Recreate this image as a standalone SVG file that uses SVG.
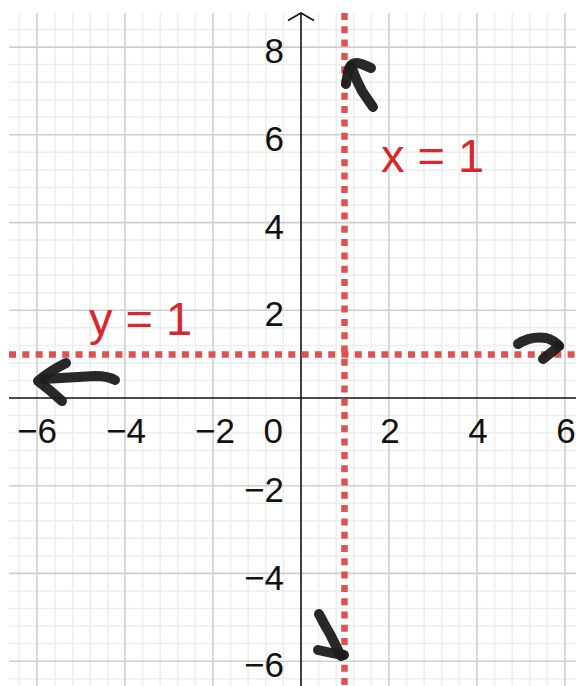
<svg xmlns="http://www.w3.org/2000/svg" width="576" height="686" viewBox="0 0 576 686">
<style>
.minor{stroke:#ededed;stroke-width:1.5}
.major{stroke:#cfcfcf;stroke-width:1.6}
.axis{stroke:#111;stroke-width:1.6;fill:none}
.tick{font-family:"Liberation Sans",Arial,sans-serif;font-size:35px;fill:#111}
.lbl{font-family:"Liberation Sans",Arial,sans-serif;font-size:47px;fill:#d8282d}
.dot{stroke:#e05252;stroke-width:6.5;stroke-dasharray:7 6.3;fill:none}
.hand{stroke:#1c1c1c;stroke-width:10;stroke-linecap:round;stroke-linejoin:round;fill:none;opacity:0.95}
</style>
<rect width="576" height="686" fill="#fff"/>
<g id="grid">
<g class="minor">
<path d="M19.4 13V686M55 13V686M72.6 13V686M90.2 13V686M107.8 13V686M142.6 13V686M160.2 13V686M177.8 13V686M195.4 13V686M230.6 13V686M248.2 13V686M265.8 13V686M283.4 13V686M318.6 13V686M336.2 13V686M353.8 13V686M371.4 13V686M406.6 13V686M424.2 13V686M441.8 13V686M459.4 13V686M494.6 13V686M512.2 13V686M529.8 13V686M547.4 13V686"/>
<path d="M9 29.6H576M9 64.6H576M9 82.2H576M9 99.7H576M9 117.3H576M9 152.3H576M9 169.9H576M9 187.5H576M9 205H576M9 240.1H576M9 257.7H576M9 275.2H576M9 292.8H576M9 327.8H576M9 345.4H576M9 362.9H576M9 380.5H576M9 415.5H576M9 433.1H576M9 450.6H576M9 468.2H576M9 503.2H576M9 520.8H576M9 538.3H576M9 555.9H576M9 591H576M9 608.5H576M9 626.1H576M9 643.6H576M9 678.7H576"/>
</g>
<g class="major">
<path d="M37 13V686M125 13V686M213 13V686M389 13V686M477 13V686M565 13V686"/>
<path d="M9 47.1H576M9 134.8H576M9 222.6H576M9 310.3H576M9 485.7H576M9 573.4H576M9 661.2H576"/>
</g>
</g>
<g id="axes">
<path class="axis" d="M9 398H576"/>
<path class="axis" d="M301 13V686"/>
<path class="axis" d="M288 20.5L301 13L314 20.5"/>
</g>
<g id="tick-labels">
<text class="tick" x="37" y="443" text-anchor="middle">−6</text>
<text class="tick" x="126" y="443" text-anchor="middle">−4</text>
<text class="tick" x="215" y="443" text-anchor="middle">−2</text>
<text class="tick" x="283" y="443" text-anchor="end">0</text>
<text class="tick" x="390" y="443" text-anchor="middle">2</text>
<text class="tick" x="478" y="443" text-anchor="middle">4</text>
<text class="tick" x="566" y="443" text-anchor="middle">6</text>
<text class="tick" x="284" y="63" text-anchor="end">8</text>
<text class="tick" x="284" y="151" text-anchor="end">6</text>
<text class="tick" x="284" y="239" text-anchor="end">4</text>
<text class="tick" x="284" y="326" text-anchor="end">2</text>
<text class="tick" x="284" y="502" text-anchor="end">−2</text>
<text class="tick" x="284" y="590" text-anchor="end">−4</text>
<text class="tick" x="284" y="677" text-anchor="end">−6</text>
</g>
<g id="line-x1">
<path class="dot" d="M344.5 13V686"/>
<text class="lbl" x="381" y="172">x = 1</text>
</g>
<g id="line-y1">
<path class="dot" d="M9 354.5H576"/>
<text class="lbl" x="89" y="335">y = 1</text>
</g>
<g id="hand-arrows">
<path class="hand" d="M346 84L348 72Q350 63 357 63Q363 64 371 68"/>
<path class="hand" d="M351 66Q356 80 362 91Q366 97 373 107"/>
<path class="hand" d="M518 344Q530 336 546 338Q554 340 559 346"/>
<path class="hand" d="M559 346Q552 352 543 359"/>
<path class="hand" d="M115 380Q108 376 95 376L44 379"/>
<path class="hand" d="M66 363Q50 371 38 381Q50 390 62 401"/>
<path class="hand" d="M319 614Q324 624 330 634Q336 646 341 656"/>
<path class="hand" d="M318 650Q330 653 344 655"/>
</g>
</svg>
